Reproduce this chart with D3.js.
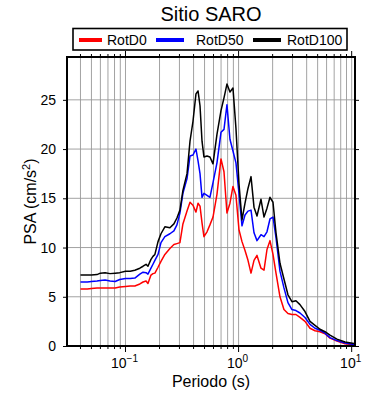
<!DOCTYPE html>
<html>
<head>
<meta charset="utf-8">
<script src="https://cdn.jsdelivr.net/npm/d3@7"></script>
<style>
  body { margin: 0; background: #fff; }
  svg { font-family: "Liberation Sans", Arial, sans-serif; }
</style>
</head>
<body>
<div id="chart"></div>
<script>
// periods (s) of the spectra
const periods = [0.04, 0.046, 0.05, 0.056, 0.06, 0.066, 0.073, 0.081, 0.089, 0.1,
  0.11, 0.121, 0.134, 0.143, 0.152, 0.158, 0.168, 0.175, 0.182, 0.194,
  0.206, 0.223, 0.247, 0.268, 0.285, 0.303, 0.322, 0.35, 0.372, 0.395,
  0.42, 0.438, 0.456, 0.475, 0.494, 0.526, 0.558, 0.594, 0.644, 0.699,
  0.743, 0.789, 0.839, 0.892, 0.948, 1.008, 1.072, 1.14, 1.211, 1.288,
  1.369, 1.455, 1.578, 1.678, 1.783, 1.895, 2.015, 2.142, 2.323, 2.519,
  2.732, 2.963, 3.215, 3.49, 3.866, 4.28, 4.74, 5.25, 5.81, 6.43,
  7.41, 8.73, 10.47]

const rotD0 = [5.78, 5.78, 5.85, 5.9, 5.9, 5.9, 5.9, 5.9, 6.0, 6.05,
  6.1, 6.1, 6.3, 6.5, 6.6, 6.35, 7.2, 7.35, 7.4, 8.0,
  8.6, 9.3, 9.9, 10.3, 10.4, 10.5, 12.4, 13.7, 14.6, 14.3,
  13.6, 14.5, 14.2, 12.5, 11.1, 11.6, 12.3, 13.1, 15.4, 19.0,
  17.7, 13.5, 14.5, 16.2, 15.3, 11.8, 10.6, 9.7, 8.7, 7.4,
  8.7, 9.2, 7.9, 7.7, 9.8, 10.7, 9.3, 7.4, 5.0, 3.7,
  3.3, 3.2, 3.2, 2.9, 2.5, 1.8, 1.55, 1.45, 1.25, 0.8,
  0.5, 0.22, 0.12]

const rotD50 = [6.5, 6.5, 6.55, 6.6, 6.65, 6.7, 6.6, 6.55, 6.75, 6.85,
  6.85, 6.9, 7.3, 7.5, 7.45, 7.3, 7.9, 8.3, 8.7, 9.3,
  10.5, 11.1, 11.4, 11.7, 12.3, 13.5, 15.5, 17.0, 19.3, 19.4,
  20.0, 18.8, 17.5, 15.1, 15.5, 15.3, 15.1, 16.6, 18.6, 21.7,
  22.0, 24.5, 21.0, 19.8, 18.6, 15.5, 12.2, 13.3, 13.7, 13.8,
  11.5, 10.7, 11.3, 11.1, 11.6, 12.9, 13.1, 11.0, 7.6, 5.9,
  4.4, 3.7, 3.6, 3.35, 2.9, 2.2, 1.8, 1.6, 1.3, 0.85,
  0.55, 0.3, 0.15]

const rotD100 = [7.2, 7.2, 7.2, 7.25, 7.4, 7.45, 7.35, 7.4, 7.45, 7.6,
  7.6, 7.7, 7.9, 8.1, 8.3, 8.1, 8.8, 9.1, 9.3, 10.6,
  11.4, 12.1, 12.0, 12.4, 13.0, 13.8, 15.8, 17.5, 20.8, 22.8,
  25.6, 25.9, 24.4, 20.8, 19.2, 19.3, 19.2, 18.5, 21.5, 23.9,
  25.2, 26.6, 25.8, 26.2, 22.1, 16.5, 12.8, 14.5, 16.0, 17.2,
  14.1, 13.2, 14.9, 13.1, 14.0, 15.1, 14.6, 11.5, 8.4, 6.8,
  5.2, 4.5, 4.6, 4.2, 3.5, 2.5, 2.1, 1.7, 1.45, 1.1,
  0.7, 0.4, 0.25]

const seriesNames = ["RotD0", "RotD50", "RotD100"]
const seriesColors = ["#ff0000", "#0000ff", "#000000"]
const yTicks = [0, 5, 10, 15, 20, 25]
const xMajor = [0.1, 1, 10]

const margin = {top: 57, right: 35, bottom: 54, left: 67},
    width = 390 - margin.left - margin.right,
    height = 400 - margin.top - margin.bottom;

const svg = d3.select("#chart")
  .append("svg")
    .attr("width", 390)
    .attr("height", 400)

const g = svg.append("g")
  .attr("transform", `translate(${margin.left}, ${margin.top})`)

// scales
const x = d3.scaleLog()
  .domain([0.0304, 10.7])
  .range([0, width])
const y = d3.scaleLinear()
  .domain([0, 29.35])
  .range([height, 0])

const xMinor = x.ticks().filter(t => t > 0.0304 && t < 10.7)

//////////
// GRID //
//////////
g.append("g")
  .selectAll("line")
  .data(xMinor)
  .join("line")
    .attr("x1", d => x(d)).attr("x2", d => x(d))
    .attr("y1", 0).attr("y2", height)
    .attr("stroke", "#999")
    .attr("stroke-width", 0.9)

g.append("g")
  .selectAll("line")
  .data(yTicks.filter(d => d > 0))
  .join("line")
    .attr("x1", 0).attr("x2", width)
    .attr("y1", d => y(d)).attr("y2", d => y(d))
    .attr("stroke", "#999")
    .attr("stroke-width", 0.9)

//////////
// CURVES //
//////////
g.append("defs").append("clipPath")
  .attr("id", "clip")
  .append("rect")
    .attr("width", width)
    .attr("height", height)

const line = d3.line()
  .x(d => x(d[0]))
  .y(d => y(d[1]))

const allSeries = [rotD0, rotD50, rotD100]
g.append("g")
  .attr("clip-path", "url(#clip)")
  .selectAll("path")
  .data(allSeries)
  .join("path")
    .attr("fill", "none")
    .attr("stroke", (d, i) => seriesColors[i])
    .attr("stroke-width", 1.5)
    .attr("stroke-linejoin", "round")
    .attr("d", vals => line(periods.map((p, j) => [p, vals[j]])))

//////////
// AXES //
//////////
// left
g.append("g")
  .call(d3.axisLeft(y).tickValues(yTicks).tickSize(4).tickPadding(7))
  .call(a => a.select(".domain").remove())
  .call(a => a.selectAll("text").attr("font-size", 14).attr("fill", "#000").attr("font-family", null))

// right
g.append("g")
  .attr("transform", `translate(${width}, 0)`)
  .call(d3.axisRight(y).tickValues(yTicks).tickSize(4).tickFormat(""))
  .call(a => a.select(".domain").remove())

// bottom and top ticks (minor short, major long)
function logTicks(sel, dir) {
  sel.selectAll("line")
    .data(xMinor)
    .join("line")
      .attr("x1", d => x(d)).attr("x2", d => x(d))
      .attr("y1", 0)
      .attr("y2", d => dir * (xMajor.includes(d) ? 6 : 3))
      .attr("stroke", "#000")
      .attr("stroke-width", 1)
}
g.append("g").attr("transform", `translate(0, ${height})`).call(logTicks, 1)
g.append("g").call(logTicks, -1)

// x tick labels 10^n
const xLabels = g.append("g")
  .selectAll("text")
  .data(xMajor)
  .join("text")
    .attr("x", d => x(d) - 1)
    .attr("y", height + 22)
    .attr("text-anchor", "middle")
    .attr("font-size", 14)
xLabels.append("tspan").text("10")
xLabels.append("tspan")
  .attr("dy", -6)
  .attr("font-size", 10)
  .text(d => d3.format("d")(Math.log10(d)).replace("-", "\u2212"))

// frame
g.append("rect")
  .attr("width", width)
  .attr("height", height)
  .attr("fill", "none")
  .attr("stroke", "#000")
  .attr("stroke-width", 2)

// axis titles
svg.append("text")
  .attr("x", margin.left + width / 2)
  .attr("y", 387)
  .attr("text-anchor", "middle")
  .attr("font-size", 16)
  .text("Periodo (s)")

const yLab = svg.append("text")
  .attr("transform", `translate(36, ${margin.top + height / 2}) rotate(-90)`)
  .attr("text-anchor", "middle")
  .attr("font-size", 16)
yLab.append("tspan").text("PSA (cm/s")
yLab.append("tspan").attr("dy", -6).attr("font-size", 11).text("2")
yLab.append("tspan").attr("dy", 6).text(")")

// title
svg.append("text")
  .attr("x", margin.left + width / 2)
  .attr("y", 21)
  .attr("text-anchor", "middle")
  .attr("font-size", 20)
  .text("Sitio SARO")

//////////
// LEGEND //
//////////
const legend = svg.append("g")
legend.append("rect")
  .attr("x", 73).attr("y", 28.5)
  .attr("width", 274).attr("height", 21.5)
  .attr("fill", "#fff")
  .attr("stroke", "#000")
  .attr("stroke-width", 1.6)

const legX = [79, 156, 253]
const legItems = legend.selectAll("g.item")
  .data(seriesNames)
  .join("g")
    .attr("class", "item")
    .attr("transform", (d, i) => `translate(${legX[i]}, 40)`)
legItems.append("line")
  .attr("x1", 0).attr("x2", (d, i) => i === 0 ? 23 : 28)
  .attr("stroke", (d, i) => seriesColors[i])
  .attr("stroke-width", 4)
legItems.append("text")
  .attr("x", (d, i) => i === 0 ? 28 : 40 - (i === 2 ? 6 : 0))
  .attr("y", 5)
  .attr("font-size", 14)
  .text(d => d)
</script>
</body>
</html>
